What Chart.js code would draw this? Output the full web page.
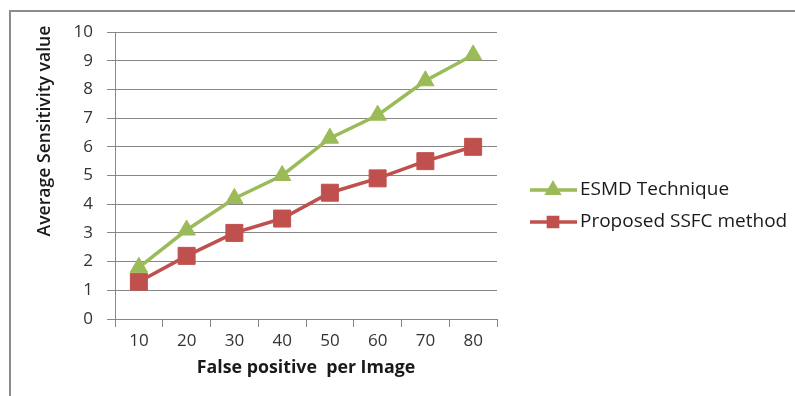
<!DOCTYPE html>
<html>
<head>
<meta charset="utf-8">
<title>Average Sensitivity vs False positive per Image</title>
<script src="https://cdn.jsdelivr.net/npm/chart.js@4.4.1/dist/chart.umd.min.js"></script>
<style>
  html, body { margin: 0; padding: 0; background: #ffffff; }
  #wrap { position: relative; width: 795px; height: 396px; }
  canvas { display: block; }
</style>
</head>
<body>
<div id="wrap"><canvas id="chart" width="795" height="396"></canvas></div>
<script>
// False positives per image (x categories)
const categories = ['10', '20', '30', '40', '50', '60', '70', '80'];
// Average sensitivity values per method
const esmdValues = [1.8, 3.1, 4.2, 5.0, 6.3, 7.1, 8.3, 9.2];
const ssfcValues = [1.3, 2.2, 3.0, 3.5, 4.4, 4.9, 5.5, 6.0];
const seriesNames = ['ESMD Technique', 'Proposed SSFC method'];
const xTitle = 'False positive  per Image';
const yTitle = 'Average Sensitivity value';

const GREEN = '#9bbb59';
const RED = '#c0504d';
const GRID = '#878787';
const FONT = '"Open Sans", "DejaVu Sans", sans-serif';

// Frame lines along the top and left edges
const framePlugin = {
  id: 'frame',
  beforeDraw(chart) {
    const ctx = chart.ctx;
    ctx.save();
    ctx.fillStyle = '#ffffff';
    ctx.fillRect(0, 0, chart.width, chart.height);
    ctx.strokeStyle = '#8c8c8c';
    ctx.lineWidth = 2;
    ctx.beginPath();
    ctx.moveTo(10, chart.height);
    ctx.lineTo(10, 11);
    ctx.lineTo(chart.width, 11);
    ctx.stroke();
    ctx.restore();
  }
};

// Rotated y-axis title
const yTitlePlugin = {
  id: 'yTitle',
  afterDraw(chart) {
    const ctx = chart.ctx;
    ctx.save();
    ctx.translate(45, 131);
    ctx.rotate(-Math.PI / 2);
    ctx.font = '600 17.6px ' + FONT;
    ctx.fillStyle = '#1a1a1a';
    ctx.textAlign = 'center';
    ctx.textBaseline = 'middle';
    ctx.fillText(yTitle, 0, 0);
    ctx.restore();
  }
};

// Legend entries on the right: line sample with marker, then the label
const legendPlugin = {
  id: 'sideLegend',
  afterDraw(chart) {
    const ctx = chart.ctx;
    const rows = [190, 222];
    chart.data.datasets.forEach((ds, i) => {
      const y = rows[i];
      ctx.save();
      ctx.strokeStyle = ds.borderColor;
      ctx.lineWidth = 3.5;
      ctx.beginPath();
      ctx.moveTo(530, y);
      ctx.lineTo(577, y);
      ctx.stroke();
      ctx.fillStyle = ds.pointBackgroundColor;
      ctx.strokeStyle = ds.pointBorderColor;
      Chart.helpers.drawPoint(ctx, {
        pointStyle: ds.pointStyle,
        radius: 6.5,
        rotation: 0,
        borderWidth: 1
      }, 553, y);
      ctx.fillStyle = '#1a1a1a';
      ctx.font = '19px ' + FONT;
      ctx.textAlign = 'left';
      ctx.textBaseline = 'middle';
      ctx.fillText(ds.label, 580, y);
      ctx.restore();
    });
  }
};

new Chart(document.getElementById('chart'), {
  type: 'line',
  data: {
    labels: categories,
    datasets: [
      {
        label: seriesNames[0],
        data: esmdValues,
        borderColor: GREEN,
        backgroundColor: GREEN,
        pointBackgroundColor: GREEN,
        pointBorderColor: GREEN,
        borderWidth: 3.5,
        pointStyle: 'triangle',
        pointRadius: 10,
        pointBorderWidth: 1,
        tension: 0
      },
      {
        label: seriesNames[1],
        data: ssfcValues,
        borderColor: RED,
        backgroundColor: RED,
        pointBackgroundColor: RED,
        pointBorderColor: RED,
        borderWidth: 3.5,
        pointStyle: 'rect',
        pointRadius: 12,
        pointBorderWidth: 1,
        tension: 0
      }
    ]
  },
  options: {
    responsive: false,
    animation: false,
    layout: { padding: { left: 10, top: 32, right: 298, bottom: 14 } },
    plugins: {
      legend: { display: false },
      tooltip: { enabled: false }
    },
    scales: {
      x: {
        offset: true,
        grid: {
          offset: true,
          drawOnChartArea: false,
          drawTicks: true,
          tickLength: 8,
          color: GRID,
          lineWidth: 1
        },
        border: { color: GRID, width: 1 },
        ticks: {
          color: '#333333',
          font: { family: FONT, size: 17 },
          padding: 4,
          maxRotation: 0
        },
        title: {
          display: true,
          text: xTitle,
          color: '#1a1a1a',
          font: { family: FONT, size: 17.8, weight: 'bold' },
          padding: { top: 0, bottom: 3 }
        },
        afterFit(scale) { scale.height = 63; }
      },
      y: {
        min: 0,
        max: 10,
        ticks: {
          stepSize: 1,
          color: '#333333',
          font: { family: FONT, size: 17 },
          padding: 14
        },
        grid: {
          color: GRID,
          lineWidth: 1,
          drawTicks: true,
          tickLength: 8
        },
        border: { color: GRID, width: 1 },
        afterFit(scale) { scale.width = 105; }
      }
    }
  },
  plugins: [framePlugin, yTitlePlugin, legendPlugin]
});
</script>
</body>
</html>
